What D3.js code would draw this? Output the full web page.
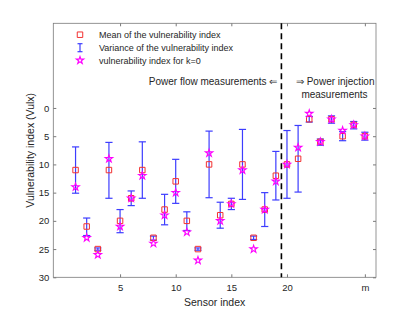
<!DOCTYPE html>
<html>
<head>
<meta charset="utf-8">
<script src="https://cdn.jsdelivr.net/npm/d3@7"></script>
<style>
  body { margin: 0; background: #fff; }
  svg text { font-family: "Liberation Sans", Arial, Helvetica, sans-serif; fill: #262626; }
</style>
</head>
<body>
<div id="chart"></div>
<script>
// sensor indices (27 = "m")
const sensors = [1, 2, 3, 4, 5, 6, 7, 8, 9, 10, 11, 12, 13, 14, 15, 16, 17, 18, 19, 20, 21, 22, 23, 24, 25, 26, 27];
const meanVals = [11, 21, 25, 11, 20, 16, 11, 23, 18, 13, 20, 25, 10, 19, 17, 10, 23, 18, 12, 10, 9, 2, 6, 2, 5, 3, 5];
const k0Vals = [14, 23, 26, 9, 21, 16, 12, 24, 19, 15, 22, 27, 8, 20, 17, 11, 25, 18, 13, 10, 7, 1, 6, 2, 4, 3, 5];
const lowVals = [6.9, 19.5, 24.8, 6.1, 18, 14.7, 6, 22.7, 15.3, 9.1, 18.4, 24.8, 4.1, 16.7, 16, 3.8, 22.7, 15, 7.7, 4, 3.1, 1.5, 5.5, 1.4, 4.2, 2.4, 4.3];
const highVals = [15.1, 22.6, 25.2, 16, 22.1, 17.3, 16, 23.4, 20.7, 16.9, 21.7, 25.2, 15.9, 21.3, 18, 16.2, 23.3, 21, 16.3, 16, 14.9, 2.5, 6.6, 2.7, 5.8, 3.7, 5.7];

const xTicks = [5, 10, 15, 20, 27];
const xTickLabels = ['5', '10', '15', '20', 'm'];
const yTicks = [0, 5, 10, 15, 20, 25, 30];
const dividerX = 19.5;

const legendLabels = ['Mean of the vulnerability index', 'Variance of the vulnerability index', 'vulnerability index for k=0'];

const W = 415, H = 312;
const margin = {top: 23.3, right: 39, bottom: 34.7, left: 53.3};

const svg = d3.select('#chart').append('svg')
    .attr('width', W)
    .attr('height', H);

const x = d3.scaleLinear().domain([-1, 28]).range([margin.left, W - margin.right]);
const y = d3.scaleLinear().domain([-15, 30]).range([margin.top, H - margin.bottom]);

const axisColor = '#7a7a7a';

// axes (ticks point inward, like matlab)
const gx = svg.append('g')
    .attr('transform', `translate(0,${H - margin.bottom})`)
    .call(d3.axisBottom(x).tickValues(xTicks).tickFormat((d, i) => xTickLabels[i])
      .tickSizeInner(-3).tickSizeOuter(0).tickPadding(7));
gx.select('.domain').remove();
gx.selectAll('line').attr('stroke', axisColor);
gx.selectAll('text').style('font-size', '9.5px').attr('fill', '#262626');

const gxTop = svg.append('g')
    .attr('transform', `translate(0,${margin.top})`)
    .call(d3.axisTop(x).tickValues(xTicks).tickFormat('').tickSizeInner(-3).tickSizeOuter(0));
gxTop.select('.domain').remove();
gxTop.selectAll('line').attr('stroke', axisColor);

const gy = svg.append('g')
    .attr('transform', `translate(${margin.left},0)`)
    .call(d3.axisLeft(y).tickValues(yTicks).tickSizeInner(-3).tickSizeOuter(0).tickPadding(4));
gy.select('.domain').remove();
gy.selectAll('line').attr('stroke', axisColor);
gy.selectAll('text').style('font-size', '9.5px').attr('fill', '#262626');

const gyRight = svg.append('g')
    .attr('transform', `translate(${W - margin.right},0)`)
    .call(d3.axisRight(y).tickValues(yTicks).tickFormat('').tickSizeInner(-3).tickSizeOuter(0));
gyRight.select('.domain').remove();
gyRight.selectAll('line').attr('stroke', axisColor);

svg.append('rect')
    .attr('x', margin.left).attr('y', margin.top)
    .attr('width', W - margin.left - margin.right)
    .attr('height', H - margin.top - margin.bottom)
    .attr('fill', 'none').attr('stroke', axisColor).attr('stroke-width', 0.8);

// axis labels
svg.append('text')
    .attr('x', (x.range()[0] + x.range()[1]) / 2)
    .attr('y', 305.5)
    .attr('text-anchor', 'middle')
    .style('font-size', '10.5px')
    .text('Sensor index');

svg.append('text')
    .attr('transform', `translate(34,${(y.range()[0] + y.range()[1]) / 2}) rotate(-90)`)
    .attr('text-anchor', 'middle')
    .style('font-size', '10.5px')
    .text('Vulnerability index (Vulx)');

// divider
svg.append('line')
    .attr('x1', x(dividerX)).attr('x2', x(dividerX))
    .attr('y1', y.range()[0]).attr('y2', y.range()[1])
    .attr('stroke', '#000').attr('stroke-width', 1.6)
    .attr('stroke-dasharray', '6,4');

svg.append('text')
    .attr('x', x(dividerX) - 4).attr('y', 85)
    .attr('text-anchor', 'end')
    .style('font-size', '10px')
    .text('Power flow measurements \u21D0');

svg.append('text')
    .attr('x', x(dividerX) + 14.5).attr('y', 85)
    .style('font-size', '10px')
    .text('\u21D2 Power injection');

svg.append('text')
    .attr('x', x(dividerX) + 20).attr('y', 97.5)
    .style('font-size', '10px')
    .text('measurements');

const data = sensors.map((s, i) => ({s, mean: meanVals[i], k0: k0Vals[i], lo: lowVals[i], hi: highVals[i]}));

const barColor = '#3d3dff';
const capW = 3.6;

// error bars
const eb = svg.append('g').selectAll('g').data(data).join('g')
    .attr('stroke', barColor).attr('stroke-width', 1.2);
eb.append('line')
    .attr('x1', d => x(d.s)).attr('x2', d => x(d.s))
    .attr('y1', d => y(d.lo)).attr('y2', d => y(d.hi));
eb.append('line')
    .attr('x1', d => x(d.s) - capW).attr('x2', d => x(d.s) + capW)
    .attr('y1', d => y(d.lo)).attr('y2', d => y(d.lo));
eb.append('line')
    .attr('x1', d => x(d.s) - capW).attr('x2', d => x(d.s) + capW)
    .attr('y1', d => y(d.hi)).attr('y2', d => y(d.hi));

const squarePath = d3.symbol(d3.symbolSquare, 30)();
const starPath = d3.symbol(d3.symbolStar, 17)();

svg.append('g').selectAll('path').data(data).join('path')
    .attr('d', squarePath)
    .attr('transform', d => `translate(${x(d.s)},${y(d.mean)})`)
    .attr('fill', 'none').attr('stroke', '#f23030').attr('stroke-width', 1);

svg.append('g').selectAll('path').data(data).join('path')
    .attr('d', starPath)
    .attr('transform', d => `translate(${x(d.s)},${y(d.k0)})`)
    .attr('fill', 'none').attr('stroke', '#ff00ff').attr('stroke-width', 1.1);

// legend
const legendX = 80, legendTextX = 99;
const legendY = [34.7, 47.7, 60.3];
const lg = svg.append('g');
lg.append('path').attr('d', squarePath)
    .attr('transform', `translate(${legendX},${legendY[0]})`)
    .attr('fill', 'none').attr('stroke', '#f23030');
lg.append('line')
    .attr('x1', legendX).attr('x2', legendX)
    .attr('y1', legendY[1] - 4).attr('y2', legendY[1] + 4)
    .attr('stroke', barColor).attr('stroke-width', 1.2);
lg.append('line')
    .attr('x1', legendX - 2.5).attr('x2', legendX + 2.5)
    .attr('y1', legendY[1] - 4).attr('y2', legendY[1] - 4)
    .attr('stroke', barColor).attr('stroke-width', 1.2);
lg.append('line')
    .attr('x1', legendX - 2.5).attr('x2', legendX + 2.5)
    .attr('y1', legendY[1] + 4).attr('y2', legendY[1] + 4)
    .attr('stroke', barColor).attr('stroke-width', 1.2);
lg.append('path').attr('d', starPath)
    .attr('transform', `translate(${legendX},${legendY[2]})`)
    .attr('fill', 'none').attr('stroke', '#ff00ff').attr('stroke-width', 1.1);
lg.selectAll('text').data(legendLabels).join('text')
    .attr('x', legendTextX)
    .attr('y', (d, i) => legendY[i] + 3.2)
    .style('font-size', '9px')
    .text(d => d);
</script>
</body>
</html>
